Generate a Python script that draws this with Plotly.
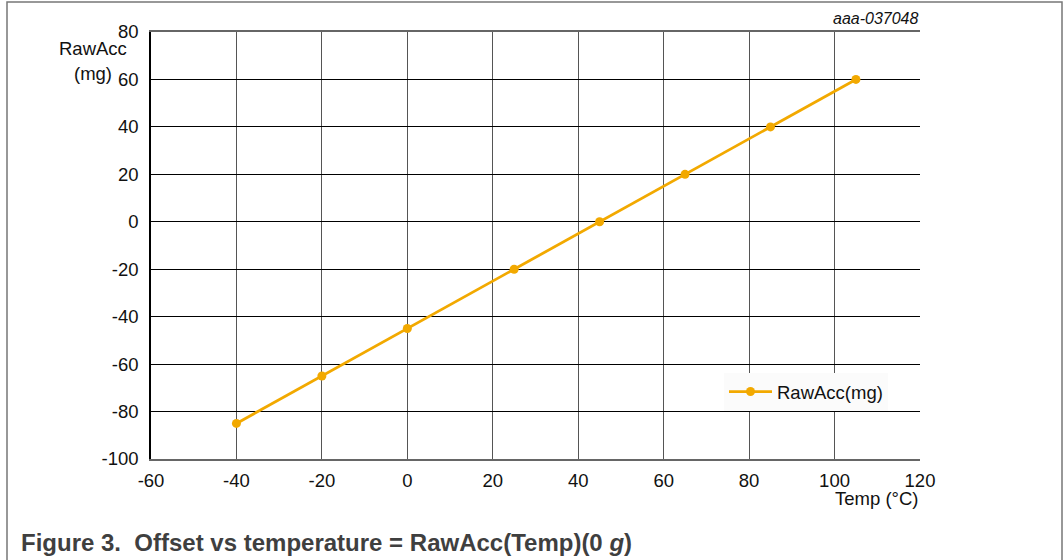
import plotly.graph_objects as go

# Offset measurements versus temperature
temp_c = [-40, -20, 0, 25, 45, 65, 85, 105]
raw_acc_mg = [-85, -65, -45, -20, 0, 20, 40, 60]

x_ticks = [-60, -40, -20, 0, 20, 40, 60, 80, 100, 120]
y_ticks = [-100, -80, -60, -40, -20, 0, 20, 40, 60, 80]

ORANGE = "#F2A900"
FONT = "Liberation Sans, Arial, sans-serif"
TXT = 18.5

W, H = 1064, 560
L, R, T, B = 151, 920, 32, 459
pw, ph = R - L, B - T


def px(x):
    return (x - L) / pw


def py(y):
    return (B - y) / ph


fig = go.Figure()
fig.add_trace(go.Scatter(
    x=temp_c, y=raw_acc_mg, mode="lines+markers", name="RawAcc(mg)",
    line=dict(color=ORANGE, width=2.8),
    marker=dict(color=ORANGE, size=9),
))

fig.update_layout(
    width=W, height=H,
    margin=dict(l=L, r=W - R, t=T, b=H - B),
    paper_bgcolor="white", plot_bgcolor="white",
    font=dict(family=FONT, size=TXT, color="#111"),
    showlegend=True,
    legend=dict(
        x=px(724), y=py(373), xanchor="left", yanchor="top",
        bgcolor="#fbfbfb", borderwidth=0, itemwidth=43,
        font=dict(size=TXT, color="#111"),
    ),
    xaxis=dict(
        range=[-60, 120], tickvals=x_ticks, ticktext=[str(v) for v in x_ticks],
        showgrid=True, gridcolor="#555", gridwidth=1,
        zeroline=False, showline=True, linecolor="#666", linewidth=2,
        mirror=True, ticks="", ticklabelstandoff=4,
    ),
    yaxis=dict(
        range=[-100, 80], tickvals=y_ticks, ticktext=[str(v) for v in y_ticks],
        showgrid=True, gridcolor="#000", gridwidth=1,
        zeroline=False, showline=True, linecolor="#000", linewidth=1.5,
        mirror=False, ticks="", ticklabelstandoff=7,
    ),
)

# Outer frame around the figure
fig.add_shape(type="rect", xref="paper", yref="paper",
              x0=px(7), x1=px(1062), y0=py(600), y1=py(2),
              line=dict(color="#777", width=1.5), fillcolor="rgba(0,0,0,0)",
              layer="below")

# Axis titles and labels
fig.add_annotation(xref="paper", yref="paper", x=px(129), y=py(48),
                   xanchor="right", yanchor="middle", showarrow=False,
                   text="RawAcc", font=dict(size=TXT, color="#111"))
fig.add_annotation(xref="paper", yref="paper", x=px(114), y=py(73),
                   xanchor="right", yanchor="middle", showarrow=False,
                   text="(mg)", font=dict(size=TXT, color="#111"))
fig.add_annotation(xref="paper", yref="paper", x=px(920), y=py(498),
                   xanchor="right", yanchor="middle", showarrow=False,
                   text="Temp (°C)", font=dict(size=TXT, color="#111"))
fig.add_annotation(xref="paper", yref="paper", x=px(921), y=py(19),
                   xanchor="right", yanchor="middle", showarrow=False,
                   text="<i>aaa-037048</i>", font=dict(size=16, color="#111"))

# Caption
fig.add_annotation(xref="paper", yref="paper", x=px(19), y=py(542),
                   xanchor="left", yanchor="middle", showarrow=False,
                   text="<b>Figure 3.  Offset vs temperature = RawAcc(Temp)(0 <i>g</i>)</b>",
                   font=dict(size=24, color="#3f3f3f"))

fig.write_html("out.html")
